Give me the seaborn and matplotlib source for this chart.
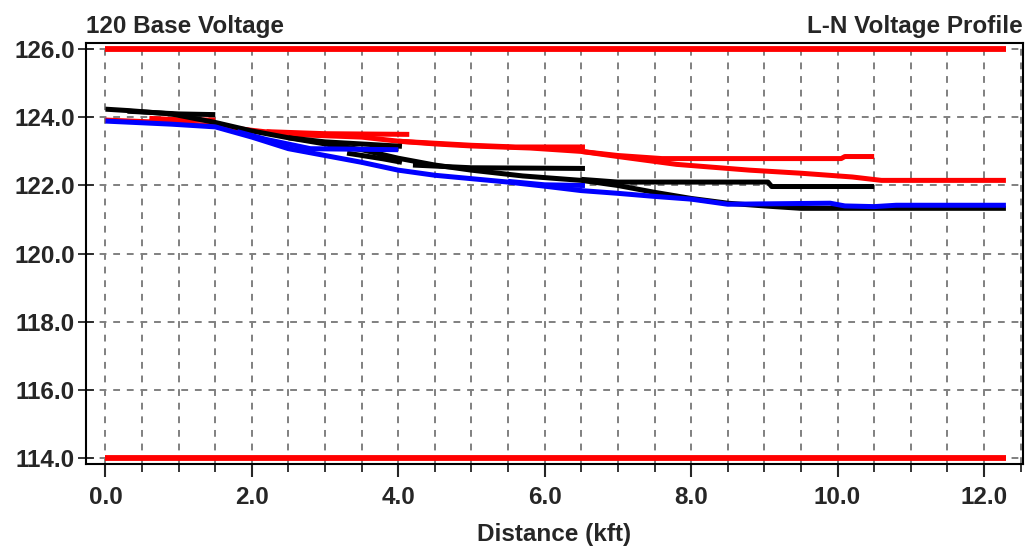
#!/usr/bin/env python
# L-N voltage profile of a feeder: one line per branch, per phase

import pandas as pd
import seaborn as sns
from matplotlib import pyplot as plt
from matplotlib.ticker import MultipleLocator, FormatStrFormatter

# ---- data (distance in kft, voltage on 120 V base) ----
limit_dist = [0.0, 12.3]
limit_high = [126.0, 126.0]
limit_low = [114.0, 114.0]

# phase A (red)
red_main_d = [0.0, 0.7, 1.5, 2.0, 2.5, 3.5, 4.0, 4.5, 5.0, 5.8, 6.5, 7.0, 7.8, 8.8, 9.5, 10.2, 10.6, 12.3]
red_main_v = [123.92, 123.86, 123.75, 123.62, 123.5, 123.42, 123.3, 123.22, 123.16, 123.1, 123.0, 122.85, 122.62, 122.45, 122.36, 122.25, 122.15, 122.15]
red_b1_d = [0.6, 1.0, 1.5]
red_b1_v = [123.97, 123.93, 123.92]
red_b2_d = [2.2, 3.0, 4.15]
red_b2_v = [123.58, 123.52, 123.5]
red_b3_d = [4.0, 4.5, 5.0, 5.6, 6.55]
red_b3_v = [123.3, 123.24, 123.18, 123.13, 123.13]
red_b4_d = [6.5, 7.0, 7.6, 10.05, 10.1, 10.5]
red_b4_v = [123.0, 122.88, 122.79, 122.79, 122.85, 122.85]

# phase B (black)
blk_main_d = [0.0, 0.3, 0.9, 1.5, 2.0, 2.5, 3.0, 3.5, 4.0, 4.5, 5.0, 5.7, 6.5, 7.0, 7.5, 8.0, 8.5, 9.0, 9.5, 12.3]
blk_main_v = [124.24, 124.2, 124.1, 123.85, 123.6, 123.4, 123.22, 123.05, 122.8, 122.6, 122.45, 122.28, 122.15, 122.0, 121.8, 121.62, 121.48, 121.4, 121.33, 121.33]
blk_b1_d = [0.3, 1.0, 1.5]
blk_b1_v = [124.18, 124.1, 124.08]
blk_b2_d = [2.5, 3.0, 4.05]
blk_b2_v = [123.4, 123.28, 123.15]
blk_b3_d = [3.3, 3.8, 4.05]
blk_b3_v = [122.95, 122.78, 122.68]
blk_b4_d = [4.2, 5.0, 6.55]
blk_b4_v = [122.6, 122.52, 122.5]
blk_b5_d = [6.5, 7.0, 9.05, 9.1, 10.5]
blk_b5_v = [122.18, 122.1, 122.1, 121.97, 121.97]

# phase C (blue)
blu_main_d = [0.0, 0.3, 0.9, 1.5, 2.0, 2.5, 3.0, 3.5, 4.0, 4.5, 5.0, 5.5, 6.0, 6.5, 7.0, 7.5, 8.0, 8.5, 9.9, 10.1, 10.5, 10.8, 12.3]
blu_main_v = [123.89, 123.86, 123.8, 123.72, 123.42, 123.08, 122.88, 122.68, 122.45, 122.3, 122.2, 122.1, 121.98, 121.85, 121.77, 121.68, 121.6, 121.45, 121.48, 121.4, 121.38, 121.42, 121.42]
blu_b1_d = [1.8, 2.2, 2.8, 4.0]
blu_b1_v = [123.58, 123.35, 123.08, 123.05]
blu_b2_d = [5.5, 6.0, 6.55]
blu_b2_v = [122.12, 122.02, 122.0]

branches = [
    ("A", "a0", red_main_d, red_main_v), ("A", "a1", red_b1_d, red_b1_v),
    ("A", "a2", red_b2_d, red_b2_v), ("A", "a3", red_b3_d, red_b3_v),
    ("A", "a4", red_b4_d, red_b4_v),
    ("B", "b0", blk_main_d, blk_main_v), ("B", "b1", blk_b1_d, blk_b1_v),
    ("B", "b2", blk_b2_d, blk_b2_v), ("B", "b3", blk_b3_d, blk_b3_v),
    ("B", "b4", blk_b4_d, blk_b4_v), ("B", "b5", blk_b5_d, blk_b5_v),
    ("C", "c0", blu_main_d, blu_main_v), ("C", "c1", blu_b1_d, blu_b1_v),
    ("C", "c2", blu_b2_d, blu_b2_v),
]

rows = []
for phase, name, dists, volts in branches:
    for d, v in zip(dists, volts):
        rows.append({"phase": phase, "branch": name, "dist": d, "volt": v})
df = pd.DataFrame(rows)

sns.set_theme(style="ticks")
plt.rcParams["font.family"] = ["Liberation Sans", "DejaVu Sans"]
plt.rcParams["font.weight"] = "bold"
plt.rcParams["lines.solid_capstyle"] = "butt"

fig = plt.figure(figsize=(10.31, 5.52), dpi=100)
ax = fig.add_axes([0.0834, 0.159, 0.9086, 0.763])

# limit lines
sns.lineplot(x=limit_dist, y=limit_high, ax=ax, color="#ff0000", linewidth=4.2)
sns.lineplot(x=limit_dist, y=limit_low, ax=ax, color="#ff0000", linewidth=4.2)

# phase profiles
sns.lineplot(data=df, x="dist", y="volt", hue="phase", units="branch",
             estimator=None, sort=False,
             palette={"A": "#ff0000", "B": "#000000", "C": "#0000ff"},
             linewidth=3.6, legend=False, ax=ax)

ax.set_xlim(-0.266, 12.53)
ax.set_ylim(113.82, 126.18)
ax.xaxis.set_major_locator(MultipleLocator(2.0))
ax.xaxis.set_minor_locator(MultipleLocator(0.5))
ax.yaxis.set_major_locator(MultipleLocator(2.0))
ax.xaxis.set_major_formatter(FormatStrFormatter("%.1f"))
ax.yaxis.set_major_formatter(FormatStrFormatter("%.1f"))

ax.set_axisbelow(True)
ax.grid(which="major", axis="y", color="#808080", linestyle=(0, (3.5, 3.5)), linewidth=1.4)
ax.grid(which="both", axis="x", color="#808080", linestyle=(0, (3.5, 3.5)), linewidth=1.4)

ax.tick_params(axis="x", which="major", direction="out", length=9, width=1.5, labelsize=17.5, pad=7)
ax.tick_params(axis="x", which="minor", direction="out", length=6, width=1.3)
ax.tick_params(axis="y", which="major", direction="inout", length=12, width=1.3, labelsize=17.5, pad=2)
for lab in ax.get_xticklabels() + ax.get_yticklabels():
    lab.set_fontweight("bold")
for sp in ax.spines.values():
    sp.set_visible(True)
    sp.set_linewidth(1.5)
    sp.set_color("black")

ax.set_xlabel("Distance (kft)", fontsize=17.5, fontweight="bold", labelpad=10)
ax.set_ylabel("")
ax.set_title("120 Base Voltage", loc="left", fontsize=17.5, fontweight="bold", pad=7)
ax.set_title("L-N Voltage Profile", loc="right", fontsize=17.5, fontweight="bold", pad=7)

fig.savefig("out.png", dpi=100)
